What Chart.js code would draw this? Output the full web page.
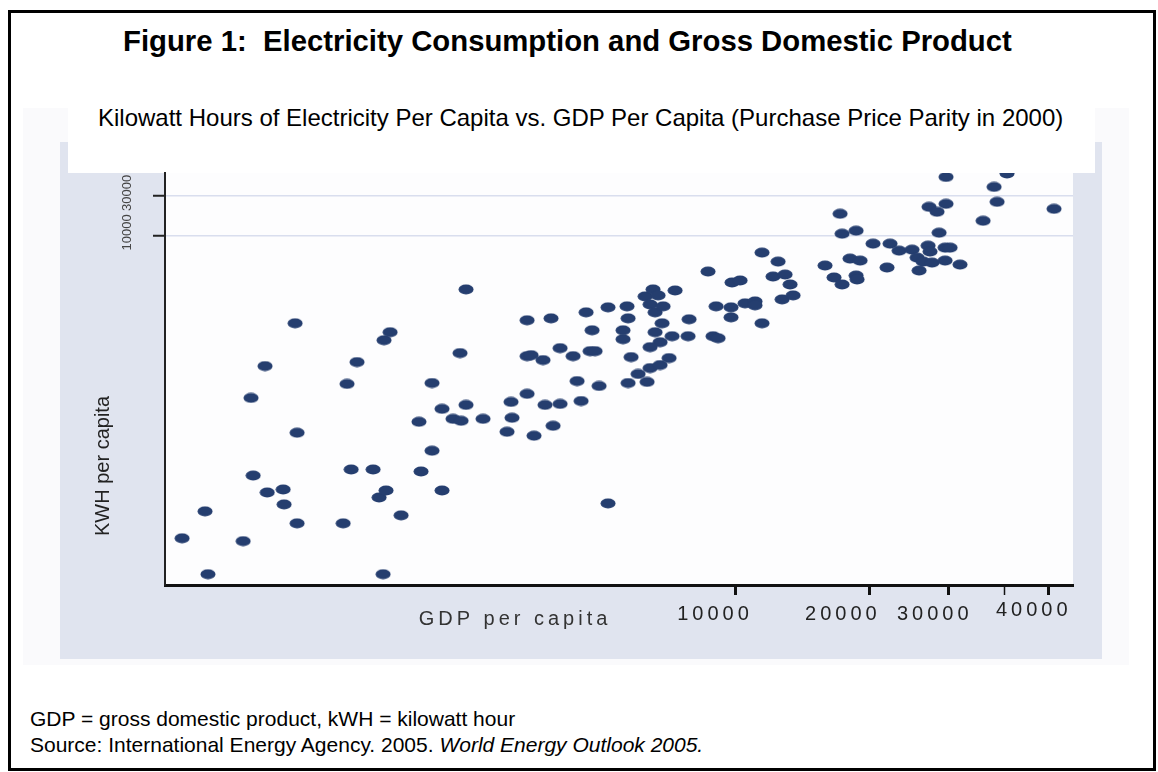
<!DOCTYPE html>
<html>
<head>
<meta charset="utf-8">
<title>Figure 1: Electricity Consumption and Gross Domestic Product</title>
<script src="https://cdn.jsdelivr.net/npm/chart.js@4.4.1/dist/chart.umd.min.js"></script>
<style>
  body { margin: 0; background: #fff; font-family: "Liberation Sans", Arial, sans-serif; color: #000; }
  #page { position: relative; width: 1158px; height: 772px; overflow: hidden; }
  #frame { position: absolute; left: 8px; top: 10px; width: 1148px; height: 761px; border: 3px solid #000; box-sizing: border-box; }
  #title { position: absolute; left: 123px; top: 24px; font-size: 29.3px; font-weight: bold; line-height: 33px; white-space: pre; }
  #shade { position: absolute; left: 23px; top: 108px; width: 1106px; height: 557px; background: #fafafc; }
  #panel { position: absolute; left: 60px; top: 142px; width: 1042px; height: 517px; background: #e0e4ef; }
  #subbox { position: absolute; left: 68px; top: 100px; width: 1027px; height: 73px; background: #fff; }
  #subtitle { position: absolute; left: 98px; top: 104px; font-size: 24px; line-height: 28px; white-space: nowrap; }
  #chart { position: absolute; left: 60px; top: 142px; }
  .note { position: absolute; left: 30px; font-size: 21px; line-height: 26px; white-space: nowrap; }
</style>
</head>
<body>
<div id="page">
  <div id="frame"></div>
  <div id="title">Figure 1:  Electricity Consumption and Gross Domestic Product</div>
  <div id="shade"></div>
  <div id="panel"></div>
  <div id="subbox"></div>
  <div id="subtitle">Kilowatt Hours of Electricity Per Capita vs. GDP Per Capita (Purchase Price Parity in 2000)</div>
  <canvas id="chart" width="1042" height="517"></canvas>
  <div class="note" style="top:706px">GDP = gross domestic product, kWH = kilowatt hour</div>
  <div class="note" style="top:732px">Source: International Energy Agency. 2005. <i>World Energy Outlook 2005.</i></div>
</div>

<script>
// GDP per capita (PPP, 2000)
const gdpPerCapita = [
    583, 656, 666, 798, 831, 840, 893, 903, 980, 985,
    1042, 1053, 1053, 1334, 1361, 1390, 1433, 1556, 1605, 1638,
    1646, 1698, 1663, 1797, 1970, 1991, 2107, 2107, 2218, 2218,
    2347, 2433, 2446, 2509, 2509, 2738, 3098, 3162, 3178, 3434,
    3434, 3434, 3505, 3559, 3727, 3766, 3884, 3925, 4069, 4069,
    4350, 4440, 4532, 4650, 4747, 4870, 4796, 4971, 5206, 5206,
    5623, 5623, 5740, 5770, 5770, 5861, 6075, 6297, 6461, 6561,
    6629, 6732, 6908, 6873, 6629, 6802, 6461, 7124, 7235, 7348,
    7855, 7895, 8704, 8931, 9164, 9071, 9796, 9796, 9847, 10261,
    10527, 11081, 11081, 11489, 11489, 12474, 12157, 6362, 6461, 6802,
    12733, 12931, 13269, 13476, 15880, 16634, 17157, 17334, 17334, 18058,
    18627, 18627, 18722, 19013, 20324, 21842, 22182, 23233, 24843, 25491,
    25751, 26285, 26970, 27100, 27245, 27523, 28243, 28537, 29431, 29431,
    29580, 29580, 30195, 31782, 35784, 37858, 38446, 40470, 51523
];

// kWh of electricity per capita (same order)
const kwhPerCapita = [
    2.2, 4.65, 0.81, 2.03, 109, 12.6, 264, 7.86, 8.54, 5.64,
    868, 41.4, 3.33, 3.33, 161, 14.9, 295, 14.9, 6.84, 0.81,
    542, 677, 8.31, 4.16, 56.1, 14.1, 165, 25.1, 80.4, 8.31,
    60.9, 379, 57.7, 2226, 89.8, 60.9, 42.5, 97.5, 62.7, 122,
    944, 348, 358, 38.1, 312, 89.8, 997, 50.2, 435, 92.3,
    348, 174, 100, 1177, 400, 400, 715, 152, 1352, 5.8,
    715, 558, 1390, 997, 165, 339, 212, 1833, 1469, 2226,
    1177, 1884, 1390, 868, 677, 513, 447, 330, 606, 2164,
    606, 970, 3662, 606, 573, 1390, 1352, 1025, 2701, 2855,
    1511, 1596, 1429, 868, 6196, 4830, 3189, 170, 250, 272,
    1687, 3370, 2556, 1884, 4323, 3102, 18230, 10480, 2556, 5248,
    11390, 3278, 2935, 4965, 7950, 4090, 7950, 6548, 6732, 5395,
    3764, 4830, 7520, 22130, 6370, 4698, 19270, 10780, 7115, 4965,
    50760, 24040, 7115, 4444, 15020, 38490, 25410, 56000, 20940
];

// axis ticks
const xTickValues = [10000, 20000, 30000, 40000, 50000];
const xTickLabels = ['10000', '20000', '30000', '40000', ''];
const yTickValues = [10000, 30000];
const yTickLabels = ['10000', '30000'];

const FONT = '"Liberation Sans", Arial, sans-serif';
Chart.defaults.font.family = FONT;

// flat ellipse marker like the original plot
const dot = document.createElement('canvas');
dot.width = 16;
dot.height = 11;
const dctx = dot.getContext('2d');
dctx.fillStyle = '#253e6f';
dctx.beginPath();
dctx.ellipse(8, 5.5, 7.5, 5, 0, 0, Math.PI * 2);
dctx.fill();

// the original x labels sit a little off their tick marks
const xLabelShift = [-20, -27, -14, 29, 0];
const xLabelLift = [0, 0, 0, -4, 0];

// white plot area, spaced x tick labels, axis titles
const figureParts = {
    id: 'figureParts',
    beforeDraw(chart) {
        const { ctx, chartArea: a } = chart;
        ctx.save();
        ctx.fillStyle = '#fdfdfe';
        ctx.fillRect(a.left, a.top, a.right - a.left, a.bottom - a.top);
        ctx.restore();
    },
    afterDraw(chart) {
        const ctx = chart.ctx;
        const xs = chart.scales.x;
        ctx.save();
        ctx.font = '20px ' + FONT;
        ctx.letterSpacing = '4px';
        ctx.textBaseline = 'alphabetic';
        ctx.textAlign = 'center';

        // x tick labels
        ctx.fillStyle = '#222';
        xTickValues.forEach((v, i) => {
            if (!xTickLabels[i]) return;
            ctx.fillText(xTickLabels[i], xs.getPixelForValue(v) + xLabelShift[i], xs.top + 35 + xLabelLift[i]);
        });

        // axis titles
        ctx.fillStyle = '#333';
        ctx.fillText('GDP per capita', 455, 483);
        ctx.letterSpacing = '0px';
        ctx.fillStyle = '#222';
        ctx.translate(43, 324);
        ctx.rotate(-Math.PI / 2);
        ctx.textBaseline = 'middle';
        ctx.fillText('KWH per capita', 0, 0);
        ctx.restore();
        ctx.letterSpacing = '0px';
    }
};

const points = gdpPerCapita.map((g, i) => ({ x: g, y: kwhPerCapita[i] }));

new Chart(document.getElementById('chart'), {
    type: 'scatter',
    data: {
        datasets: [{
            data: points,
            pointStyle: dot,
            pointRadius: 7,
            backgroundColor: '#253e6f',
            clip: 0
        }]
    },
    options: {
        responsive: false,
        animation: false,
        layout: { padding: { left: 0, right: 29, top: 31, bottom: 0 } },
        plugins: { legend: { display: false }, tooltip: { enabled: false } },
        scales: {
            x: {
                type: 'logarithmic',
                position: 'bottom',
                min: 534,
                max: 56800,
                afterBuildTicks: (axis) => { axis.ticks = xTickValues.map(v => ({ value: v })); },
                afterFit: (axis) => { axis.height = 74; },
                grid: {
                    drawOnChartArea: false,
                    drawTicks: true,
                    tickLength: 10,
                    tickColor: '#111',
                    tickWidth: (c) => (c.tick && c.tick.value === 40000 ? 1.5 : 3)
                },
                border: { color: '#111', width: 3 },
                ticks: { display: false }
            },
            y: {
                type: 'logarithmic',
                min: 0.634,
                max: 56700,
                afterBuildTicks: (axis) => { axis.ticks = yTickValues.map(v => ({ value: v })); },
                afterFit: (axis) => { axis.width = 105; },
                grid: {
                    color: '#d9deee',
                    lineWidth: 1.5,
                    tickLength: 12,
                    tickColor: '#222',
                    tickWidth: 2
                },
                border: { color: '#222', width: 2 },
                ticks: {
                    autoSkip: false,
                    minRotation: 90,
                    maxRotation: 90,
                    crossAlign: 'center',
                    padding: 8,
                    labelOffset: -3,
                    color: '#444',
                    font: { size: 13 },
                    callback: (v, i) => yTickLabels[i]
                }
            }
        }
    },
    plugins: [figureParts]
});
</script>
</body>
</html>
